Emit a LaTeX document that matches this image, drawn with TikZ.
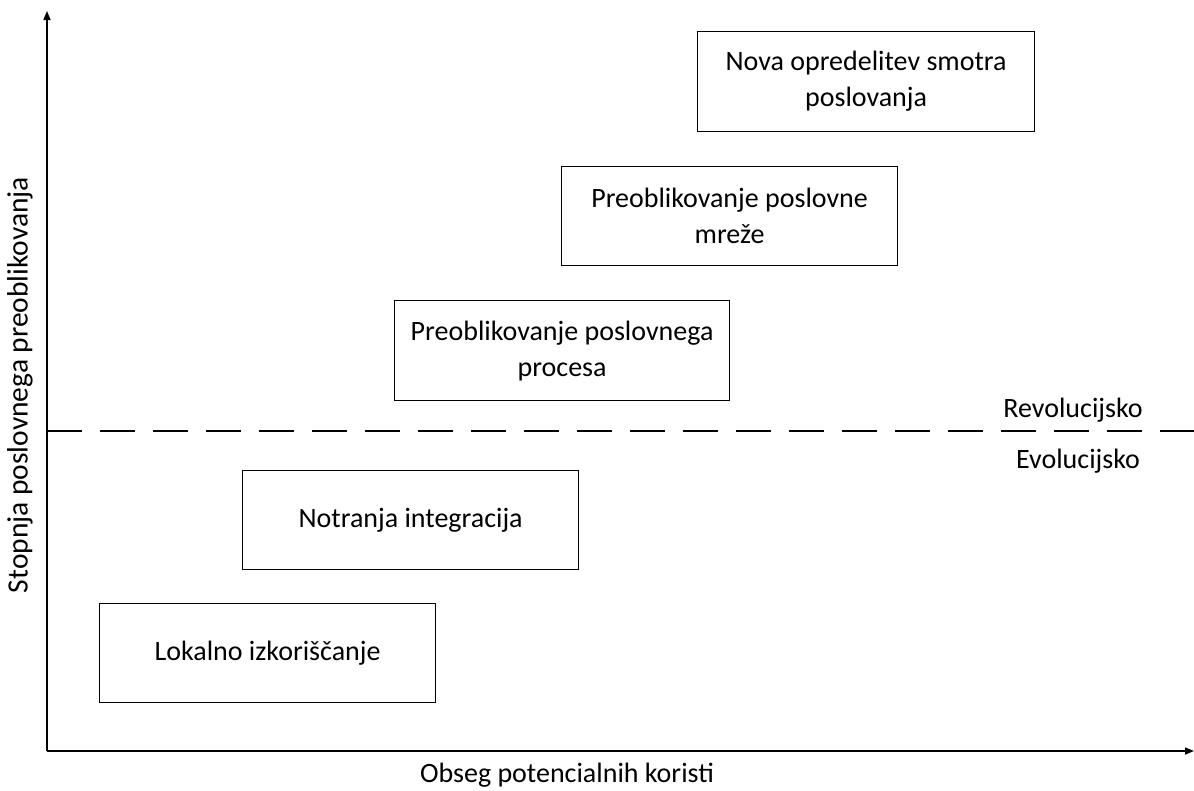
\documentclass[tikz,border=0pt]{standalone}
\usepackage{fontspec}
\setmainfont{Carlito}
\usetikzlibrary{arrows.meta}
\begin{document}
\begin{tikzpicture}[x=1pt,y=-1pt,
  every node/.style={font=\fontsize{28}{36}\selectfont},
  stagebox/.style={draw, line width=1.2pt, anchor=north west, inner sep=0pt},
  stagetext/.style={align=center},
  axis/.style={line width=1.5pt, -{Triangle[length=9pt,width=7pt]}},
  divider/.style={line width=1.2pt, dash pattern=on 35pt off 18pt}]
\useasboundingbox (0,0) rectangle (1194,790);
% axes
\coordinate (o) at (47,751);
\coordinate (ytop) at (47,11);
\coordinate (xend) at (1194,751);
\draw[axis] (o) -- (ytop);
\draw[axis] (o) -- (xend);
% boundary between evolutionary and revolutionary change
\coordinate (dl) at (47,431);
\coordinate (dr) at (1194,431);
\draw[divider] (dl) -- (dr);
\node (rev) at (1073,410) {Revolucijsko};
\node (evo) at (1078,461) {Evolucijsko};
% stages
\node[stagebox, minimum width=337pt, minimum height=100pt] (b1) at (697,31) {};
\node[stagetext] (t1) at (b1.center) {Nova opredelitev smotra\\poslovanja};
\node[stagebox, minimum width=336pt, minimum height=99pt] (b2) at (561,166) {};
\node[stagetext] (t2) at (b2.center) {Preoblikovanje poslovne\\mreže};
\node[stagebox, minimum width=335pt, minimum height=100pt] (b3) at (394,300) {};
\node[stagetext] (t3) at (b3.center) {Preoblikovanje poslovnega\\procesa};
\node[stagebox, minimum width=336pt, minimum height=99pt] (b4) at (242,470) {};
\node[stagetext] (t4) at (b4.center) {Notranja integracija};
\node[stagebox, minimum width=336pt, minimum height=99pt] (b5) at (99,603) {};
\node[stagetext] (t5) at (b5.center) {Lokalno izkoriščanje};
% axis labels
\node (xl) at (567,775) {Obseg potencialnih koristi};
\node[rotate=90, font=\fontsize{29.5}{36}\selectfont] (yl) at (20,385) {Stopnja poslovnega preoblikovanja};
\end{tikzpicture}
\end{document}
